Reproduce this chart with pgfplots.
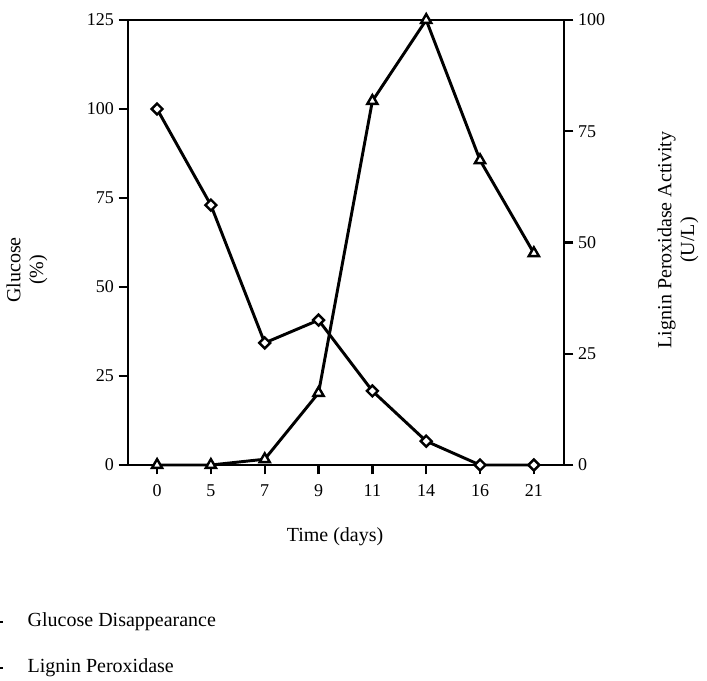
\documentclass[border=0pt]{standalone}
\usepackage{pgfplots}
\pgfplotsset{compat=1.18}
\usepackage{fontspec}
\setmainfont{Liberation Serif}

\pgfplotstableread{
x glucose lip
0 100.0 0.0
1 73.0  0.0
2 34.3  1.3
3 40.7  16.2
4 20.8  81.8
5 6.7   100.0
6 0.0   68.5
7 0.0   47.6
}\datatable

\begin{document}
\begin{tikzpicture}
\pgfplotsset{
  base/.style={
    scale only axis, width=327pt, height=333.75pt,
    anchor=south west, at={(96pt,-348.75pt)},
    xmin=-0.54, xmax=7.56,
    clip=false,
    tick align=outside,
    major tick length=7pt,
    every tick/.style={black, line width=1.7pt},
    axis line style={line width=2pt},
    /pgf/number format/assume math mode=true,
    tick label style={font=\fontsize{13.5}{15}\selectfont},
  },
}
\begin{axis}[base,
  xtick={0,...,7}, xticklabels={0,5,7,9,11,14,16,21},
  xtick pos=lower, ytick pos=left,
  xticklabel style={yshift=-4pt},
  ymin=0, ymax=125, ytick={0,25,...,125},
]
\addplot[black, line width=2.2pt, mark=square*, mark size=2.9pt,
  mark options={rotate=45, fill=white, line width=1.8pt}]
  table[x=x, y=glucose] {\datatable};
\end{axis}
\begin{axis}[base,
  axis x line=none, axis y line*=right,
  ymin=0, ymax=100, ytick={0,25,...,100},
]
\addplot[black, line width=2.2pt, mark=triangle*, mark size=4.4pt,
  mark options={fill=white, line width=1.8pt}]
  table[x=x, y=lip] {\datatable};
\end{axis}
\begin{scope}[x=0.75pt, y=-0.75pt, font=\fontsize{15}{17}\selectfont]
\path[use as bounding box] (0,0) rectangle (707,681);
\node[rotate=90, align=center] at (27,270) {Glucose\\(\%)};
\node[rotate=90, align=center] at (678,240) {Lignin Peroxidase Activity\\(U/L)};
\node at (335,537) {Time (days)};
\node[anchor=west] at (23,622) {Glucose Disappearance};
\node[anchor=west] at (23,668) {Lignin Peroxidase};
\draw[line width=0.8pt] (0,622) -- (3,622);
\draw[line width=0.8pt] (0,668) -- (3,668);
\end{scope}
\end{tikzpicture}
\end{document}
